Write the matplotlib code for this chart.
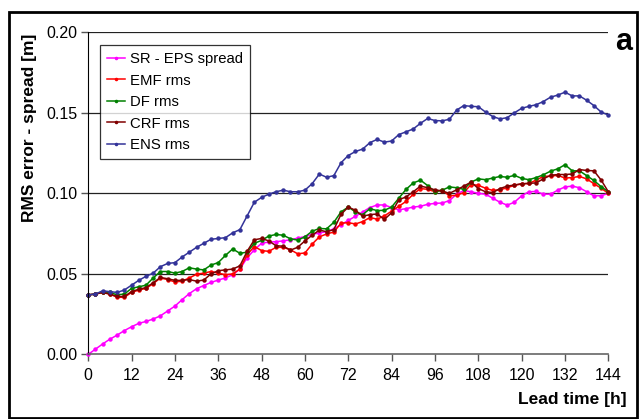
import numpy as np
import matplotlib
matplotlib.use('Agg')
import matplotlib.pyplot as plt
from matplotlib.patches import Rectangle


plt.rcParams['font.family'] = ['Liberation Sans', 'DejaVu Sans']

# lead time [h], one value every 2 hours
lead_time = np.arange(0, 145, 2)

sr_eps_spread = [
    0.0000, 0.0033, 0.0065, 0.0095, 0.0120, 0.0148, 0.0172, 0.0193, 0.0205, 0.0220,
    0.0240, 0.0270, 0.0300, 0.0340, 0.0378, 0.0408, 0.0428, 0.0447, 0.0462, 0.0475,
    0.0495, 0.0530, 0.0600, 0.0650, 0.0690, 0.0698, 0.0700, 0.0705, 0.0712, 0.0722,
    0.0732, 0.0745, 0.0755, 0.0762, 0.0780, 0.0805, 0.0832, 0.0858, 0.0885, 0.0912,
    0.0928, 0.0928, 0.0912, 0.0898, 0.0905, 0.0915, 0.0920, 0.0932, 0.0938, 0.0940,
    0.0955, 0.0995, 0.1018, 0.1010, 0.1000, 0.0995, 0.0970, 0.0945, 0.0927, 0.0945,
    0.0985, 0.1010, 0.1012, 0.0995, 0.0995, 0.1020, 0.1040, 0.1045, 0.1035, 0.1010,
    0.0985, 0.0985, 0.1000]

emf_rms = [
    0.0370, 0.0375, 0.0385, 0.0375, 0.0355, 0.0355, 0.0385, 0.0400, 0.0410, 0.0440,
    0.0475, 0.0465, 0.0450, 0.0455, 0.0475, 0.0498, 0.0505, 0.0515, 0.0505, 0.0495,
    0.0500, 0.0530, 0.0620, 0.0670, 0.0645, 0.0640, 0.0665, 0.0665, 0.0650, 0.0625,
    0.0630, 0.0685, 0.0730, 0.0748, 0.0760, 0.0815, 0.0818, 0.0810, 0.0825, 0.0850,
    0.0840, 0.0860, 0.0890, 0.0920, 0.0950, 0.0995, 0.1030, 0.1025, 0.1010, 0.1020,
    0.0985, 0.0988, 0.1005, 0.1055, 0.1050, 0.1032, 0.1018, 0.1022, 0.1035, 0.1050,
    0.1058, 0.1062, 0.1082, 0.1105, 0.1107, 0.1112, 0.1095, 0.1098, 0.1105, 0.1090,
    0.1060, 0.1032, 0.1000]

df_rms = [
    0.0370, 0.0375, 0.0390, 0.0385, 0.0370, 0.0375, 0.0410, 0.0420, 0.0430, 0.0475,
    0.0515, 0.0515, 0.0505, 0.0515, 0.0538, 0.0530, 0.0525, 0.0555, 0.0570, 0.0615,
    0.0655, 0.0628, 0.0635, 0.0690, 0.0708, 0.0735, 0.0745, 0.0740, 0.0718, 0.0710,
    0.0730, 0.0765, 0.0782, 0.0780, 0.0820, 0.0885, 0.0915, 0.0885, 0.0868, 0.0905,
    0.0893, 0.0895, 0.0915, 0.0970, 0.1025, 0.1065, 0.1082, 0.1048, 0.1010, 0.1020,
    0.1040, 0.1035, 0.1025, 0.1070, 0.1090, 0.1085, 0.1095, 0.1105, 0.1100, 0.1112,
    0.1093, 0.1085, 0.1098, 0.1115, 0.1138, 0.1152, 0.1178, 0.1140, 0.1140, 0.1110,
    0.1080, 0.1042, 0.1010]

crf_rms = [
    0.0370, 0.0375, 0.0385, 0.0375, 0.0360, 0.0360, 0.0390, 0.0405, 0.0415, 0.0445,
    0.0478, 0.0470, 0.0460, 0.0460, 0.0465, 0.0455, 0.0462, 0.0500, 0.0520, 0.0525,
    0.0530, 0.0550, 0.0640, 0.0712, 0.0720, 0.0705, 0.0675, 0.0672, 0.0648, 0.0665,
    0.0705, 0.0740, 0.0772, 0.0762, 0.0775, 0.0870, 0.0915, 0.0895, 0.0858, 0.0868,
    0.0872, 0.0838, 0.0880, 0.0960, 0.0978, 0.1010, 0.1045, 0.1035, 0.1022, 0.1015,
    0.1000, 0.1022, 0.1045, 0.1070, 0.1030, 0.1010, 0.1005, 0.1030, 0.1045, 0.1052,
    0.1060, 0.1062, 0.1065, 0.1090, 0.1112, 0.1117, 0.1117, 0.1120, 0.1148, 0.1142,
    0.1140, 0.1083, 0.1010]

ens_rms = [
    0.0370, 0.0375, 0.0395, 0.0390, 0.0385, 0.0400, 0.0430, 0.0460, 0.0485, 0.0505,
    0.0545, 0.0565, 0.0570, 0.0605, 0.0635, 0.0665, 0.0690, 0.0715, 0.0720, 0.0725,
    0.0755, 0.0775, 0.0860, 0.0945, 0.0975, 0.0995, 0.1010, 0.1020, 0.1010, 0.1010,
    0.1020, 0.1060, 0.1120, 0.1100, 0.1110, 0.1190, 0.1235, 0.1260, 0.1275, 0.1315,
    0.1335, 0.1318, 0.1325, 0.1365, 0.1382, 0.1400, 0.1435, 0.1465, 0.1452, 0.1450,
    0.1460, 0.1517, 0.1545, 0.1540, 0.1538, 0.1505, 0.1477, 0.1462, 0.1470, 0.1500,
    0.1528, 0.1540, 0.1550, 0.1570, 0.1597, 0.1610, 0.1628, 0.1605, 0.1605, 0.1578,
    0.1545, 0.1505, 0.1486]

series = [
    ('SR - EPS spread', sr_eps_spread, '#FF00FF'),
    ('EMF rms', emf_rms, '#FF0000'),
    ('DF rms', df_rms, '#008000'),
    ('CRF rms', crf_rms, '#800000'),
    ('ENS rms', ens_rms, '#333399'),
]

x_ticks = np.arange(0, 145, 12)
y_ticks = [0.00, 0.05, 0.10, 0.15, 0.20]


def main():
    fig = plt.figure(figsize=(6.39, 4.19), dpi=100)
    ax = fig.add_axes([0.138, 0.154, 0.814, 0.769])

    for yv in y_ticks[1:]:
        ax.axhline(yv, color='#222222', lw=0.9, zorder=0)

    for label, values, color in series:
        ax.plot(lead_time, values, color=color, lw=1.1, marker='o',
                markersize=3.2, markeredgewidth=0, label=label, clip_on=False)

    ax.set_xlim(0, 144)
    ax.set_ylim(0, 0.20)
    ax.set_xticks(x_ticks)
    ax.set_yticks(y_ticks)
    ax.set_yticklabels([f'{v:.2f}' for v in y_ticks])
    ax.tick_params(axis='both', direction='out', length=5, width=1,
                   color='#555555', labelsize=11.5, pad=3)
    ax.tick_params(axis='x', pad=5)

    for side in ('top', 'right'):
        ax.spines[side].set_visible(False)
    ax.spines['left'].set_color('black')
    ax.spines['bottom'].set_color('#666666')
    ax.spines['bottom'].set_linewidth(1.2)

    leg = ax.legend(loc='upper left', bbox_to_anchor=(0.0225, 0.961),
                    borderaxespad=0, fontsize=10.7, frameon=True, fancybox=False,
                    handlelength=1.2, handletextpad=0.3, labelspacing=0.5,
                    borderpad=0.5, markerscale=0.8)
    leg.get_frame().set_edgecolor('black')
    leg.get_frame().set_linewidth(0.9)

    fig.text(30 / 639, 1 - 128 / 419, 'RMS error - spread [m]', rotation=90,
             ha='center', va='center', fontsize=12.5, fontweight='bold')
    fig.text(627 / 639, 1 - 399 / 419, 'Lead time [h]', ha='right', va='center',
             fontsize=12.5, fontweight='bold')
    fig.text(624 / 639, 1 - 42 / 419, 'a', ha='center', va='center',
             fontsize=22, fontweight='bold')

    fig.patches.append(Rectangle((9 / 639, 0.003), 628 / 639, 1 - 12 / 419 - 0.003,
                                 transform=fig.transFigure, fill=False,
                                 edgecolor='black', lw=2))

    fig.savefig('out.png', dpi=100)
    plt.close(fig)


if __name__ == '__main__':
    main()
